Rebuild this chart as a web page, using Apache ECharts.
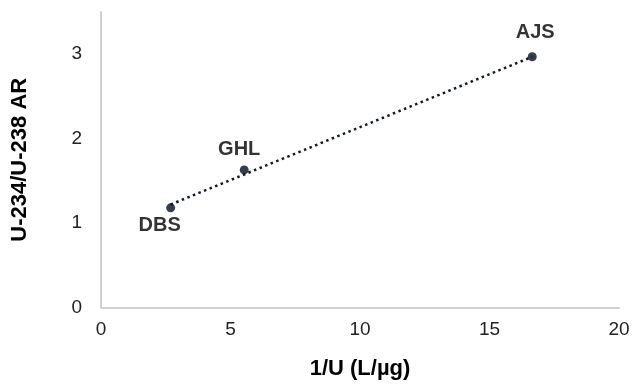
<!DOCTYPE html>
<html>
<head>
<meta charset="utf-8">
<script src="https://cdn.jsdelivr.net/npm/echarts@6/dist/echarts.min.js"></script>
<style>html,body{margin:0;padding:0;background:#fff}#c{width:633px;height:388px}</style>
</head>
<body>
<div id="c"></div>
<script>
const siteNames = ['DBS', 'GHL', 'AJS'];
const invU = [2.69, 5.53, 16.65];
const activityRatio = [1.18, 1.63, 2.97];
const trendX = [2.69, 16.65];
const trendY = [1.22, 2.97];
const xTicks = [0, 5, 10, 15, 20];
const yTicks = [0, 1, 2, 3];

const labelPos = {
  DBS: {position: 'bottom', offset: [-11, 0], distance: 3},
  GHL: {position: 'top', offset: [-5, 0], distance: 6},
  AJS: {position: 'top', offset: [3, 0], distance: 10}
};

const chart = echarts.init(document.getElementById('c'), null, {renderer: 'canvas'});
const font = '"Liberation Sans", Arial, sans-serif';
chart.setOption({
  animation: false,
  backgroundColor: '#fff',
  grid: {left: 101, right: 14, top: 12, bottom: 80.5},
  xAxis: {
    type: 'value', min: xTicks[0], max: xTicks[xTicks.length - 1], interval: 5,
    axisLine: {lineStyle: {color: '#d0d0d0', width: 2}},
    axisTick: {show: false},
    splitLine: {show: false},
    axisLabel: {color: '#222', fontSize: 19, fontFamily: font, margin: 13},
    name: '1/U (L/µg)', nameLocation: 'middle', nameGap: 50,
    nameTextStyle: {color: '#000', fontSize: 22, fontWeight: 'bold', fontFamily: font}
  },
  yAxis: {
    type: 'value', min: 0, max: 3.5, interval: 1,
    axisLine: {show: true, lineStyle: {color: '#d0d0d0', width: 2}},
    axisTick: {show: false},
    splitLine: {show: false},
    axisLabel: {color: '#222', fontSize: 19, fontFamily: font, margin: 19, showMaxLabel: false,
      formatter: v => yTicks.includes(v) ? String(v) : ''},
    name: 'U-234/U-238 AR', nameLocation: 'middle', nameGap: 70, nameRotate: 90,
    nameTextStyle: {color: '#000', fontSize: 22, fontWeight: 'bold', fontFamily: font}
  },
  series: [
    {
      type: 'line',
      data: trendX.map((x, i) => [x, trendY[i]]),
      showSymbol: false,
      lineStyle: {color: '#111a2b', width: 2.5, type: [2.5, 3.5]},
      z: 1
    },
    {
      type: 'scatter',
      symbolSize: 9,
      itemStyle: {color: '#050d20'},
      data: invU.map((x, i) => ({
        value: [x, activityRatio[i]],
        name: siteNames[i],
        label: Object.assign({
          show: true, formatter: siteNames[i], color: '#000', fontSize: 20,
          fontWeight: 'bold', fontFamily: font
        }, labelPos[siteNames[i]])
      })),
      z: 3
    }
  ]
});
</script>
</body>
</html>
